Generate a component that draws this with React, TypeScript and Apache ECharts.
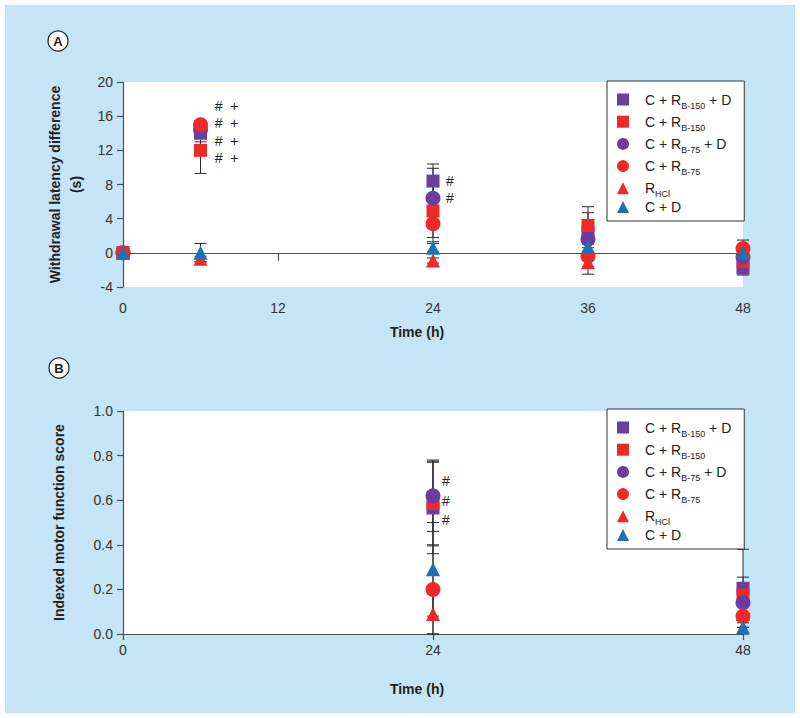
import React, { useEffect, useRef } from "react";
import * as echarts from "echarts";

const FONT = "Liberation Sans, Arial, Helvetica, sans-serif";

// Series names (legend order)
const seriesNames = ["C + RB-150 + D", "C + RB-150", "C + RB-75 + D", "C + RB-75", "RHCl", "C + D"];
const legendRich = [
  "{g| }{n|C + R}{s|B-150}{n| + D}",
  "{g| }{n|C + R}{s|B-150}",
  "{g| }{n|C + R}{s|B-75}{n| + D}",
  "{g| }{n|C + R}{s|B-75}",
  "{g| }{n|R}{s|HCl}",
  "{g| }{n|C + D}",
];
const seriesSymbols = ["rect", "rect", "circle", "circle", "triangle", "triangle"];
const seriesColors = ["#6a3d9f", "#ee2a26", "#6a3d9f", "#ee2a26", "#ee2a26", "#1c72b8"];

// Panel A: withdrawal latency difference (s)
const timesA = [0, 6, 24, 36, 48];
const meanA_purpleSq = [0, 14.0, 8.4, 2.4, -1.8];
const meanA_redSq = [0, 12.0, 4.9, 3.2, -1.0];
const meanA_purpleCirc = [0, 14.4, 6.4, 1.6, -0.5];
const meanA_redCirc = [0, 15.0, 3.4, -0.4, 0.5];
const meanA_redTri = [0, -0.7, -0.9, -1.1, 0.3];
const meanA_blueTri = [0, 0.0, 0.6, 0.7, 0.0];
const errA_purpleSq = [0, 1.0, 2.0, 2.3, 0.8];
const errA_redSq = [0, 2.7, 3.1, 2.2, 0.6];
const errA_purpleCirc = [0, 0.6, 3.5, 1.0, 0.6];
const errA_redCirc = [0, 0.5, 2.1, 2.1, 1.0];
const errA_redTri = [0, 0.3, 0.3, 0.5, 0.5];
const errA_blueTri = [0, 1.1, 0.5, 0.5, 0.4];
const yTicksA = { min: -4, max: 20, interval: 4 };
const xTicksA = { min: 0, max: 48, interval: 12 };
const annotA: [number, number, string][] = [
  [7.1, 17.2, "#  +"],
  [7.1, 15.2, "#  +"],
  [7.1, 13.1, "#  +"],
  [7.1, 11.1, "#  +"],
  [25.0, 8.4, "#"],
  [25.0, 6.4, "#"],
];

// Panel B: indexed motor function score
const timesB = [24, 48];
const meanB_purpleSq = [0.565, 0.205];
const meanB_redSq = [0.585, 0.175];
const meanB_purpleCirc = [0.62, 0.14];
const meanB_redCirc = [0.2, 0.08];
const meanB_redTri = [0.09, 0.09];
const meanB_blueTri = [0.29, 0.03];
const errB_purpleSq = [0.205, 0.175];
const errB_redSq = [0.19, 0.08];
const errB_purpleCirc = [0.16, 0.05];
const errB_redCirc = [0.2, 0.05];
const errB_redTri = [0.09, 0.04];
const errB_blueTri = [0.21, 0.03];
const yTicksB = { min: 0, max: 1, interval: 0.2 };
const xTicksB = { min: 0, max: 48, interval: 24 };
const annotB: [number, number, string][] = [
  [24.7, 0.686, "#"],
  [24.7, 0.596, "#"],
  [24.7, 0.511, "#"],
];

const meansA = [meanA_purpleSq, meanA_redSq, meanA_purpleCirc, meanA_redCirc, meanA_redTri, meanA_blueTri];
const errsA = [errA_purpleSq, errA_redSq, errA_purpleCirc, errA_redCirc, errA_redTri, errA_blueTri];
const meansB = [meanB_purpleSq, meanB_redSq, meanB_purpleCirc, meanB_redCirc, meanB_redTri, meanB_blueTri];
const errsB = [errB_purpleSq, errB_redSq, errB_purpleCirc, errB_redCirc, errB_redTri, errB_blueTri];
const symbolSizes: Record<string, number> = { rect: 13, circle: 15, triangle: 14 };

function errorBarData(times: number[], means: number[][], errs: number[][]) {
  const out: number[][] = [];
  means.forEach((m, k) => {
    times.forEach((t, i) => {
      if (errs[k][i] > 0) out.push([t, m[i] - errs[k][i], m[i] + errs[k][i]]);
    });
  });
  return out;
}

function errorRender(params: any, api: any) {
  const x = api.value(0);
  const lo = api.coord([x, api.value(1)]);
  const hi = api.coord([x, api.value(2)]);
  const w = 6;
  const style = { stroke: "#2a2a2a", lineWidth: 1 };
  return {
    type: "group",
    children: [
      { type: "line", shape: { x1: lo[0], y1: lo[1], x2: hi[0], y2: hi[1] }, style },
      { type: "line", shape: { x1: hi[0] - w, y1: hi[1], x2: hi[0] + w, y2: hi[1] }, style },
      { type: "line", shape: { x1: lo[0] - w, y1: lo[1], x2: lo[0] + w, y2: lo[1] }, style },
    ],
  };
}

function annotSeries(data: [number, number, string][], xi: number, yi: number) {
  return {
    type: "custom",
    xAxisIndex: xi,
    yAxisIndex: yi,
    silent: true,
    z: 5,
    data: data.map((d) => [d[0], d[1]]),
    renderItem: (params: any, api: any) => {
      const p = api.coord([api.value(0), api.value(1)]);
      return {
        type: "text",
        x: p[0],
        y: p[1],
        style: {
          text: data[params.dataIndex][2],
          fill: "#222",
          font: `14px ${FONT}`,
          textAlign: "left",
          textVerticalAlign: "middle",
        },
      };
    },
  };
}

const axisLineStyle = { color: "#505050", width: 1.2 };
const labelStyle = { color: "#333", fontSize: 14, fontFamily: FONT };
const nameStyle = { color: "#222", fontSize: 14, fontWeight: "bold" as const, fontFamily: FONT };

function legendFor(top: number) {
  return {
    orient: "vertical",
    left: 607,
    top,
    padding: [8, 13, 7, 10],
    itemGap: 1.2,
    itemWidth: 12,
    itemHeight: 12,
    backgroundColor: "#fff",
    borderColor: "#333",
    borderWidth: 1,
    borderRadius: 0,
    data: seriesNames.map((n, i) => ({ name: n, icon: seriesSymbols[i] })),
    formatter: (name: string) => legendRich[seriesNames.indexOf(name)],
    textStyle: {
      color: "#222",
      fontFamily: FONT,
      rich: {
        g: { width: 11, fontSize: 14, lineHeight: 21 },
        n: { fontSize: 14, lineHeight: 21, fontFamily: FONT, color: "#222" },
        s: { fontSize: 9, lineHeight: 9, padding: [12, 0, 0, 0], fontFamily: FONT, color: "#222" },
      },
    },
  };
}

export default function App() {
  const ref = useRef<HTMLDivElement>(null);
  useEffect(() => {
    if (!ref.current) return;
    const chart = echarts.init(ref.current, undefined, { renderer: "svg" });
    const scatterA = seriesNames.map((n, k) => ({
      name: n,
      type: "scatter",
      xAxisIndex: 0,
      yAxisIndex: 0,
      symbol: seriesSymbols[k],
      symbolSize: symbolSizes[seriesSymbols[k]],
      itemStyle: { color: seriesColors[k], opacity: 1 },
      z: 3,
      data: timesA.map((t, i) => [t, meansA[k][i]]),
    }));
    const scatterB = seriesNames.map((n, k) => ({
      name: n,
      type: "scatter",
      xAxisIndex: 2,
      yAxisIndex: 1,
      symbol: seriesSymbols[k],
      symbolSize: symbolSizes[seriesSymbols[k]],
      itemStyle: { color: seriesColors[k], opacity: 1 },
      z: 3,
      data: timesB.map((t, i) => [t, meansB[k][i]]),
    }));
    const option: any = {
      animation: false,
      backgroundColor: "#fff",
      textStyle: { fontFamily: FONT },
      graphic: [
        { type: "rect", z: -100, silent: true, shape: { x: 5, y: 5, width: 790, height: 708 }, style: { fill: "#c5e4f6" } },
        { type: "circle", z: 10, shape: { cx: 58, cy: 41, r: 10 }, style: { fill: "#fff", stroke: "#222", lineWidth: 1.2 } },
        { type: "text", z: 11, x: 58, y: 41, style: { text: "A", font: `bold 13px ${FONT}`, fill: "#222", textAlign: "center", textVerticalAlign: "middle" } },
        { type: "circle", z: 10, shape: { cx: 59, cy: 368, r: 10 }, style: { fill: "#fff", stroke: "#222", lineWidth: 1.2 } },
        { type: "text", z: 11, x: 59, y: 368, style: { text: "B", font: `bold 13px ${FONT}`, fill: "#222", textAlign: "center", textVerticalAlign: "middle" } },
      ],
      legend: [legendFor(81), legendFor(409)],
      grid: [
        { left: 123, top: 82, width: 620, height: 205, show: true, backgroundColor: "#fff", borderWidth: 0 },
        { left: 123, top: 411, width: 620, height: 223, show: true, backgroundColor: "#fff", borderWidth: 0 },
      ],
      xAxis: [
        {
          gridIndex: 0,
          type: "value",
          ...xTicksA,
          position: "bottom",
          axisLine: { show: false, onZero: false },
          axisTick: { show: false },
          splitLine: { show: false },
          axisLabel: { ...labelStyle, margin: 14 },
          name: "Time (h)",
          nameLocation: "middle",
          nameGap: 38,
          nameTextStyle: { ...nameStyle, padding: [0, 32, 0, 0] },
        },
        {
          gridIndex: 0,
          type: "value",
          ...xTicksA,
          position: "bottom",
          axisLine: { show: true, onZero: true, lineStyle: axisLineStyle },
          axisTick: { show: true, length: 8, lineStyle: axisLineStyle },
          splitLine: { show: false },
          axisLabel: { show: false },
        },
        {
          gridIndex: 1,
          type: "value",
          ...xTicksB,
          position: "bottom",
          axisLine: { show: true, onZero: false, lineStyle: axisLineStyle },
          axisTick: { show: true, length: 6, lineStyle: axisLineStyle },
          splitLine: { show: false },
          axisLabel: { ...labelStyle, margin: 9 },
          name: "Time (h)",
          nameLocation: "middle",
          nameGap: 48,
          nameTextStyle: { ...nameStyle, padding: [0, 32, 0, 0] },
        },
      ],
      yAxis: [
        {
          gridIndex: 0,
          type: "value",
          ...yTicksA,
          axisLine: { show: true, lineStyle: axisLineStyle },
          axisTick: { show: true, length: 6, lineStyle: axisLineStyle },
          splitLine: { show: false },
          axisLabel: { ...labelStyle, margin: 10 },
          name: "Withdrawal latency difference\n(s)",
          nameLocation: "middle",
          nameGap: 37,
          nameTextStyle: { ...nameStyle, lineHeight: 21 },
        },
        {
          gridIndex: 1,
          type: "value",
          ...yTicksB,
          axisLine: { show: true, lineStyle: axisLineStyle },
          axisTick: { show: true, length: 6, lineStyle: axisLineStyle },
          splitLine: { show: false },
          axisLabel: { ...labelStyle, margin: 10, formatter: (v: number) => v.toFixed(1) },
          name: "Indexed motor function score",
          nameLocation: "middle",
          nameGap: 57,
          nameTextStyle: { ...nameStyle },
        },
      ],
      series: [
        {
          type: "custom",
          xAxisIndex: 0,
          yAxisIndex: 0,
          silent: true,
          z: 2,
          data: errorBarData(timesA, meansA, errsA),
          renderItem: errorRender,
        },
        {
          type: "custom",
          xAxisIndex: 2,
          yAxisIndex: 1,
          silent: true,
          z: 2,
          data: errorBarData(timesB, meansB, errsB),
          renderItem: errorRender,
        },
        ...scatterA,
        ...scatterB,
        annotSeries(annotA, 0, 0),
        annotSeries(annotB, 2, 1),
      ],
    };
    chart.setOption(option);
    return () => chart.dispose();
  }, []);
  return <div ref={ref} style={{ position: "fixed", left: 0, top: 0, width: 800, height: 718 }} />;
}
